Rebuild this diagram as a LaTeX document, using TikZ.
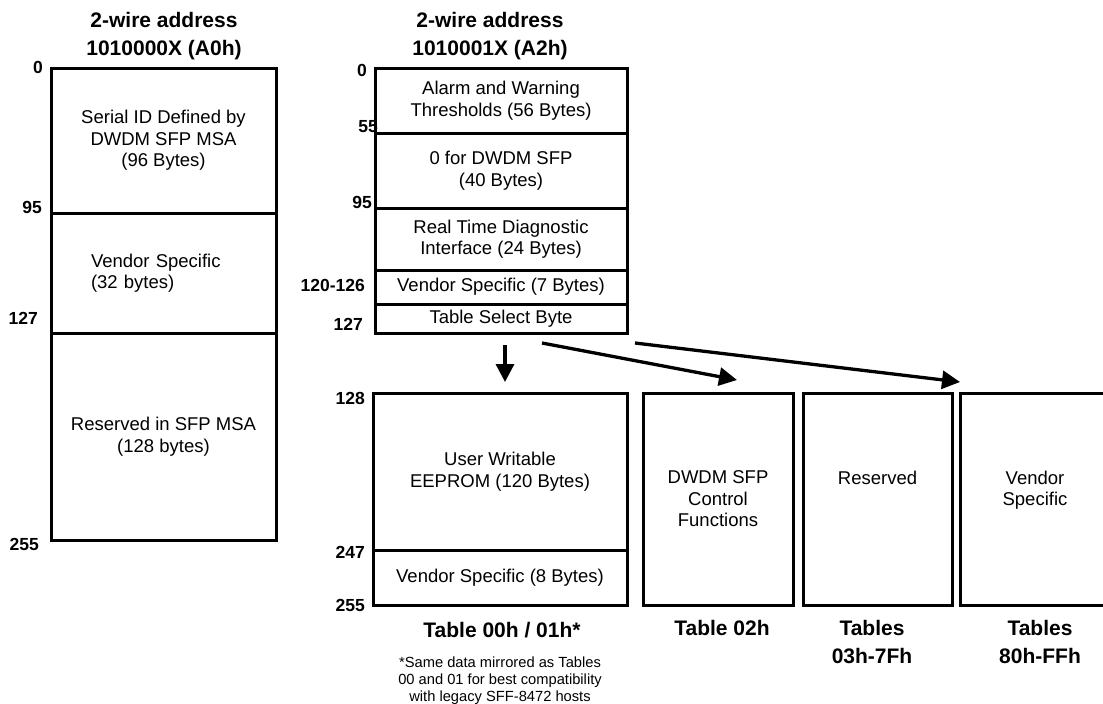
\documentclass[tikz,border=0pt]{standalone}
\usepackage{fontspec}
\setmainfont{Liberation Sans}
\usetikzlibrary{positioning,arrows.meta}
\newcommand{\segfont}{\fontsize{18.5}{21.5}\selectfont}
\newcommand{\headfont}{\fontsize{21}{27.5}\selectfont\bfseries}
\newcommand{\addrfont}{\fontsize{17.5}{19}\selectfont\bfseries}
\newcommand{\notefont}{\fontsize{14.7}{17}\selectfont}

\begin{document}
\begin{tikzpicture}[x=1pt, y=-1pt, >={Triangle[length=18pt,width=18pt]},
    seg/.style={draw, rectangle, line width=3pt, outer sep=0pt, inner sep=0pt, align=center, font=\segfont},
    head/.style={align=center, font=\headfont, inner sep=0pt, anchor=base},
    addr/.style={anchor=east, font=\addrfont, inner sep=0pt},
    arr/.style={->, line width=3.3pt}]
    \useasboundingbox (0,0) rectangle (1103,704);

    % Lower page A0h
    \node[head] (hdA0) at (164,55) {2-wire address\\1010000X (A0h)};
    \node[seg, minimum width=225pt, minimum height=145pt, anchor=north west] (serial) at (51,68) {
        Serial ID Defined by\\
        DWDM SFP MSA\\
        (96 Bytes)
    };
    \node[seg, minimum width=225pt, minimum height=120pt, below=0pt of serial, text width=145pt, inner xsep=40pt, align=left] (vs32) {
        Vendor Specific\\
        (32 bytes)
    };
    \node[seg, minimum width=225pt, minimum height=207pt, below=0pt of vs32] (rsvd) {
        Reserved in SFP MSA\\
        (128 bytes)
    };

    \node[addr] (a0) at (43,67) {0};
    \node[addr] (a95) at (42,207) {95};
    \node[addr] (a127) at (38,318) {127};
    \node[addr] (a255) at (39,544) {255};

    % Page A2h
    \node[head] (hdA2) at (490,55) {2-wire address\\1010001X (A2h)};
    \node[seg, minimum width=252pt, minimum height=65pt, anchor=north west] (alarm) at (375,68) {
        Alarm and Warning\\
        Thresholds (56 Bytes)
    };
    \node[seg, minimum width=252pt, minimum height=75pt, below=0pt of alarm] (zero) {
        0 for DWDM SFP\\
        (40 Bytes)
    };
    \node[seg, minimum width=252pt, minimum height=62pt, below=0pt of zero] (diag) {
        Real Time Diagnostic\\
        Interface (24 Bytes)
    };
    \node[seg, minimum width=252pt, minimum height=34pt, below=0pt of diag] (vs7) {Vendor Specific (7 Bytes)};
    \node[seg, minimum width=252pt, minimum height=29pt, below=0pt of vs7] (tsel) {Table Select Byte};

    \node[addr] (b0) at (367,70) {0};
    \node[addr] (b55) at (378,127) {55};
    \node[addr] (b95) at (372,202) {95};
    \node[addr] (b120) at (365,285) {120-126};
    \node[addr] (b127) at (363,324) {127};

    % Tables selected by byte 127
    \node[seg, minimum width=254pt, minimum height=157pt, anchor=north west] (user) at (373,393) {
        User Writable\\
        EEPROM (120 Bytes)
    };
    \node[seg, minimum width=254pt, minimum height=55pt, below=0pt of user] (vs8) {Vendor Specific (8 Bytes)};
    \node[seg, minimum width=150pt, minimum height=212pt, right=16pt of user.north east, anchor=north west] (ctrl) {
        DWDM SFP\\
        Control\\
        Functions
    };
    \node[seg, minimum width=149pt, minimum height=212pt, right=10pt of ctrl.north east, anchor=north west] (res) {
        Reserved\\ ~\\ ~
    };
    \node[seg, minimum width=150pt, minimum height=212pt, right=8pt of res.north east, anchor=north west] (vend) {
        Vendor\\
        Specific\\ ~
    };

    \node[addr] (c128) at (365,398) {128};
    \node[addr] (c247) at (365,552) {247};
    \node[addr] (c255) at (365,605) {255};

    \node[head] (t00) at (502,637) {Table 00h / 01h*};
    \node[head] (t02) at (722,635) {Table 02h};
    \node[head] (t03) at (872,663) {Tables\\03h-7Fh};
    \node[head] (t80) at (1040,663) {Tables\\80h-FFh};
    \node[align=center, font=\notefont, inner sep=0pt, anchor=base] (note) at (500,701) {
        *Same data mirrored as Tables\\
        00 and 01 for best compatibility\\
        with legacy SFF-8472 hosts
    };

    % Table select
    \draw[arr] ([xshift=4pt,yshift=-12pt]tsel.south) -- ([xshift=5pt,yshift=11pt]user.north);
    \draw[arr] ([xshift=41pt,yshift=-10pt]tsel.south) -- ([xshift=19pt,yshift=13pt]ctrl.north);
    \draw[arr] ([xshift=8pt,yshift=-10pt]tsel.south east) -- ([yshift=11pt]vend.north west);
\end{tikzpicture}
\end{document}
